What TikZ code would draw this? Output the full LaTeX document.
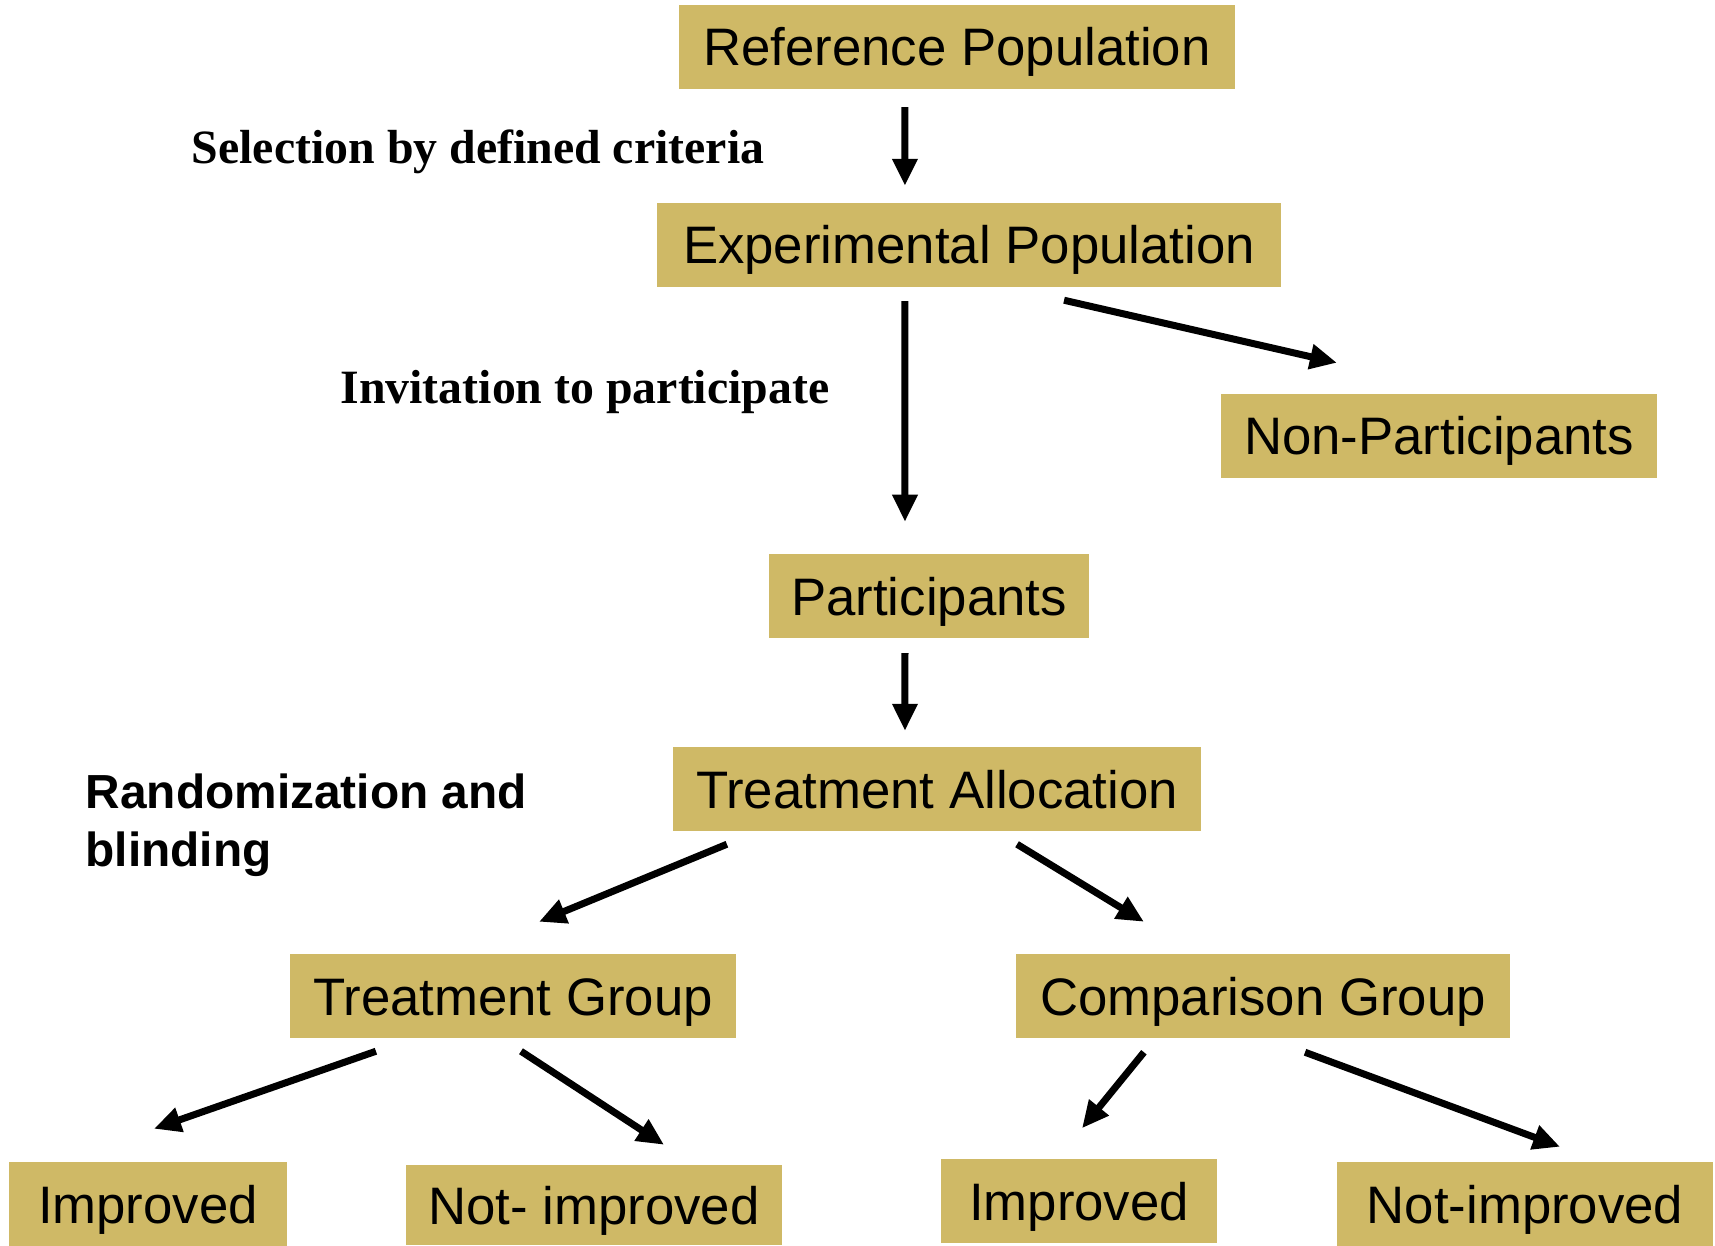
\documentclass[tikz,border=0pt]{standalone}
\usepackage{fontspec}
\setmainfont{Liberation Serif}
\setsansfont{Liberation Sans}
\usepackage{tikz}
\usetikzlibrary{arrows.meta}
\definecolor{sand}{RGB}{207,185,102}

\begin{document}
\begin{tikzpicture}[x=0.01cm,y=-0.01cm,
    box/.style={fill=sand,inner sep=0pt,minimum height=0.83cm,text height=10.8pt,text depth=0pt,font=\sffamily\fontsize{15}{18}\selectfont},
    lbl/.style={inner sep=0pt,font=\bfseries\fontsize{13.6}{16.5}\selectfont},
    arr/.style={-{Triangle[length=0.27cm,width=0.24cm]},line width=0.07cm}]
  \useasboundingbox (0,0) rectangle (1715,1245);
  \node[box,minimum width=5.56cm] (refpop) at (957,47) {Reference Population};
  \node[box,minimum width=6.23cm] (exppop) at (969,245) {Experimental Population};
  \node[box,minimum width=4.36cm] (nonpart) at (1439,436) {Non-Participants};
  \node[box,minimum width=3.19cm] (part) at (929,596) {Participants};
  \node[box,minimum width=5.27cm] (alloc) at (937,789) {Treatment Allocation};
  \node[box,minimum width=4.46cm] (tgroup) at (513,996) {Treatment Group};
  \node[box,minimum width=4.93cm] (cgroup) at (1263,996) {Comparison Group};
  \node[box,minimum width=2.78cm] (timp) at (148,1204) {Improved};
  \node[box,minimum width=3.76cm,minimum height=0.79cm] (tnimp) at (594,1205) {Not- improved};
  \node[box,minimum width=2.76cm,minimum height=0.84cm] (cimp) at (1079,1201) {Improved};
  \node[box,minimum width=3.76cm] (cnimp) at (1525,1204) {Not-improved};
  \node[lbl] (select) at (478,152) {Selection by defined criteria};
  \node[lbl] (invite) at (585,392) {Invitation to participate};
  \node[lbl,font=\sffamily\bfseries\fontsize{13.6}{16.5}\selectfont,align=left,anchor=west] (random) at (85,825) {Randomization and\\blinding};
  \draw[arr] ([xshift=-0.52cm,yshift=-0.18cm]refpop.south) -- ([xshift=-0.64cm,yshift=0.17cm]exppop.north);
  \draw[arr] ([xshift=-0.64cm,yshift=-0.14cm]exppop.south) -- ([xshift=-0.24cm,yshift=0.32cm]part.north);
  \draw[arr] ([xshift=0.95cm,yshift=-0.13cm]exppop.south) -- ([xshift=-1.02cm,yshift=0.31cm]nonpart.north);
  \draw[arr] ([xshift=-0.24cm,yshift=-0.15cm]part.south) -- ([xshift=-0.32cm,yshift=0.16cm]alloc.north);
  \draw[arr] ([xshift=-2.10cm,yshift=-0.13cm]alloc.south) -- ([xshift=0.26cm,yshift=0.32cm]tgroup.north);
  \draw[arr] ([xshift=0.80cm,yshift=-0.13cm]alloc.south) -- ([xshift=-1.19cm,yshift=0.32cm]cgroup.north);
  \draw[arr] ([xshift=-1.37cm,yshift=-0.13cm]tgroup.south) -- ([xshift=0.06cm,yshift=0.33cm]timp.north);
  \draw[arr] ([xshift=0.08cm,yshift=-0.13cm]tgroup.south) -- ([xshift=0.70cm,yshift=0.20cm]tnimp.north);
  \draw[arr] ([xshift=-1.19cm,yshift=-0.14cm]cgroup.south) -- ([xshift=0.03cm,yshift=0.30cm]cimp.north);
  \draw[arr] ([xshift=0.42cm,yshift=-0.14cm]cgroup.south) -- ([xshift=0.35cm,yshift=0.15cm]cnimp.north);
\end{tikzpicture}
\end{document}
